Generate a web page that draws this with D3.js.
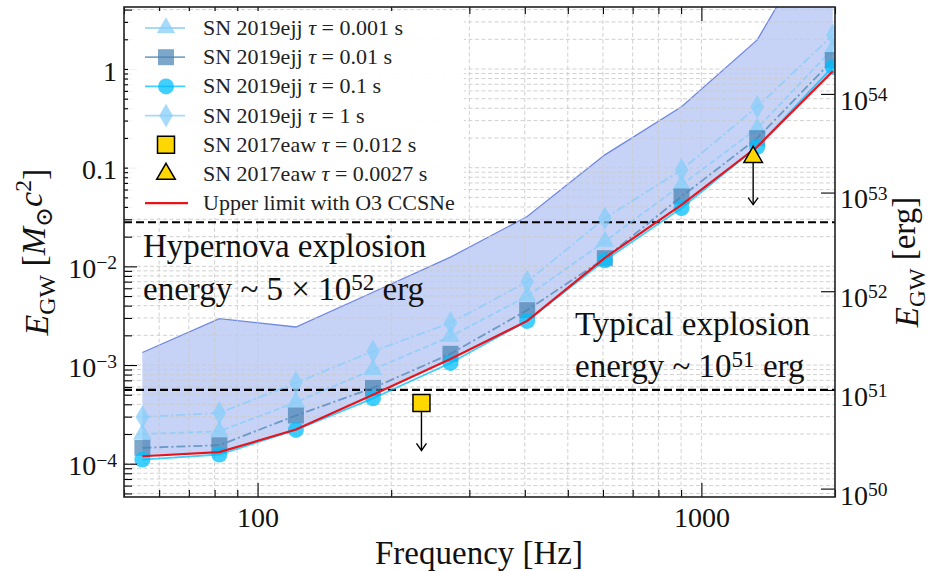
<!DOCTYPE html>
<html>
<head>
<meta charset="utf-8">
<script src="https://cdn.jsdelivr.net/npm/d3@7"></script>
<style>
  body { margin: 0; background: #fff; }
  svg { display: block; font-family: "Liberation Serif", "DejaVu Serif", serif; }
</style>
</head>
<body>
<svg width="935" height="571"></svg>
<script>
// frequencies of the SN 2019ejj points (Hz)
var freqs = [55, 82, 122, 182, 272, 405, 606, 902, 1336, 1977]

// E_GW in Msun c^2
var tau0001 = [2.0e-4, 2.13e-4, 4.2e-4, 9.0e-4, 1.95e-3, 5.0e-3, 0.0179, 0.067, 0.25, 1.6]
var tau001 = [1.45e-4, 1.54e-4, 3.08e-4, 5.86e-4, 1.30e-3, 3.6e-3, 0.0121, 0.051, 0.199, 1.23]
var tau01 = [1.10e-4, 1.24e-4, 2.2e-4, 4.6e-4, 1.05e-3, 2.8e-3, 0.0115, 0.039, 0.163, 1.05]
var tau1 = [2.98e-4, 3.27e-4, 6.6e-4, 1.38e-3, 2.67e-3, 7.0e-3, 0.0308, 0.095, 0.415, 2.2]
var upperLimit = [1.19e-4, 1.31e-4, 2.22e-4, 5.0e-4, 1.15e-3, 2.8e-3, 0.0122, 0.042, 0.163, 0.95]
var bandTop = [1.34e-3, 2.95e-3, 2.43e-3, 5.47e-3, 0.0124, 0.032, 0.135, 0.415, 1.97, 40]

// SN 2017eaw points: [freq, E_GW]
var eaw012 = [234, 4.13e-4]
var eaw0027 = [1308, 0.128]

var xMajor = [100, 1000]
var yMajor = [1e-4, 1e-3, 1e-2, 0.1, 1]
var yLabels = ['10^-4', '10^-3', '10^-2', '0.1', '1']
var ergMajor = [1e50, 1e51, 1e52, 1e53, 1e54]
var ergLabels = ['10^50', '10^51', '10^52', '10^53', '10^54']

var ERG = 1.787e54 // erg per Msun c^2
var hypernova = 5e52 / ERG
var typical = 1e51 / ERG

var svg = d3.select('svg')
var L = 124, R = 835, T = 7, B = 497

var x = d3.scaleLog().domain([50, 2000]).range([L, R])
var y = d3.scaleLog().domain([4.6e-5, 4.25]).range([B, T])
var yErg = d3.scaleLog().domain([4.6e-5 * ERG, 4.25 * ERG]).range([B, T])

svg.append('clipPath').attr('id', 'clip')
  .append('rect').attr('x', L).attr('y', T).attr('width', R - L).attr('height', B - T)

var plot = svg.append('g').attr('clip-path', 'url(#clip)')

// shaded band
var area = d3.area()
  .x(function (d, i) { return x(freqs[i]) })
  .y0(function (d, i) { return y(upperLimit[i]) })
  .y1(function (d) { return y(d) })
plot.append('path').datum(bandTop)
  .attr('d', area)
  .attr('fill', '#4169e1').attr('fill-opacity', 0.3)
plot.append('path').datum(bandTop)
  .attr('d', d3.line().x(function (d, i) { return x(freqs[i]) }).y(function (d) { return y(d) }))
  .attr('fill', 'none').attr('stroke', '#7088e0').attr('stroke-width', 1.3)

// grid
plot.selectAll('.gx').data(x.ticks()).enter().append('line')
  .attr('x1', function (d) { return x(d) }).attr('x2', function (d) { return x(d) })
  .attr('y1', T).attr('y2', B)
  .attr('stroke', '#cccccc').attr('stroke-width', 0.9).attr('stroke-dasharray', '4,2.5')
plot.selectAll('.gy').data(y.ticks()).enter().append('line')
  .attr('y1', function (d) { return y(d) }).attr('y2', function (d) { return y(d) })
  .attr('x1', L).attr('x2', R)
  .attr('stroke', '#cccccc').attr('stroke-width', 0.9).attr('stroke-dasharray', '4,2.5')

// reference explosion energies
;[hypernova, typical].forEach(function (v) {
  plot.append('line')
    .attr('x1', L).attr('x2', R).attr('y1', y(v)).attr('y2', y(v))
    .attr('stroke', '#000').attr('stroke-width', 2.2).attr('stroke-dasharray', '8,4')
})

var series = [
  { name: '0.001', vals: tau0001, sym: d3.symbolTriangle, size: 150, color: '#87cefa', op: 0.75, dash: '6,3' },
  { name: '0.01', vals: tau001, sym: d3.symbolSquare, size: 256, color: '#4682b4', op: 0.7, dash: '9,3,2,3' },
  { name: '0.1', vals: tau01, sym: d3.symbolCircle, size: 200, color: '#00bfff', op: 0.75, dash: null },
  { name: '1', vals: tau1, sym: d3.symbolDiamond, size: 160, color: '#87cefa', op: 0.75, dash: '9,3,2,3' }
]

var line = d3.line()
  .x(function (d, i) { return x(freqs[i]) })
  .y(function (d) { return y(d) })

series.forEach(function (s) {
  plot.append('path').datum(s.vals)
    .attr('d', line)
    .attr('fill', 'none')
    .attr('stroke', s.color).attr('stroke-opacity', s.op)
    .attr('stroke-width', 1.8)
    .attr('stroke-dasharray', s.dash)
  plot.selectAll(null).data(s.vals).enter().append('path')
    .attr('d', d3.symbol().type(s.sym).size(s.size))
    .attr('transform', function (d, i) { return 'translate(' + x(freqs[i]) + ',' + y(d) + ')' })
    .attr('fill', s.color).attr('fill-opacity', s.op)
})

// upper limit
plot.append('path').datum(upperLimit)
  .attr('d', line)
  .attr('fill', 'none').attr('stroke', '#e8141c').attr('stroke-width', 2.2)

// SN 2017eaw points with down arrows
function arrowDown (p) {
  var px = x(p[0]), y0 = y(p[1]), y1 = y(p[1] * 0.33)
  plot.append('line').attr('x1', px).attr('x2', px).attr('y1', y0).attr('y2', y1)
    .attr('stroke', '#000').attr('stroke-width', 1.4)
  plot.append('path')
    .attr('d', 'M' + (px - 5) + ',' + (y1 - 7) + 'L' + px + ',' + y1 + 'L' + (px + 5) + ',' + (y1 - 7))
    .attr('fill', 'none').attr('stroke', '#000').attr('stroke-width', 1.4)
}
arrowDown(eaw012)
arrowDown(eaw0027)
plot.append('path')
  .attr('d', d3.symbol().type(d3.symbolSquare).size(289))
  .attr('transform', 'translate(' + x(eaw012[0]) + ',' + y(eaw012[1]) + ')')
  .attr('fill', '#ffd700').attr('stroke', '#000').attr('stroke-width', 1.5)
plot.append('path')
  .attr('d', d3.symbol().type(d3.symbolTriangle).size(150))
  .attr('transform', 'translate(' + x(eaw0027[0]) + ',' + y(eaw0027[1]) + ')')
  .attr('fill', '#ffd700').attr('stroke', '#000').attr('stroke-width', 1.5)

// annotations
function richText (sel, parts) {
  parts.forEach(function (p) {
    var t = sel.append('tspan').text(p[0])
    if (p[1] === 'sup') t.attr('dy', '-0.45em').attr('font-size', '70%')
    if (p[1] === 'sub') t.attr('dy', '0.3em').attr('font-size', '70%')
    if (p[1] === 'it') t.attr('font-style', 'italic')
    if (p[2]) t.attr('dy', p[2])
  })
}
var ann = svg.append('g').attr('font-size', 33).attr('fill', '#111')
ann.append('text').attr('x', 143).attr('y', 257).text('Hypernova explosion')
richText(ann.append('text').attr('x', 143).attr('y', 300),
  [['energy ~ 5 × 10'], ['52', 'sup'], [' erg', null, '0.315em']])
ann.append('text').attr('x', 575).attr('y', 335).text('Typical explosion')
richText(ann.append('text').attr('x', 575).attr('y', 377),
  [['energy ~ 10'], ['51', 'sup'], [' erg', null, '0.315em']])

// axes
function powLabel (sel, s) {
  sel.text(null)
  var parts = s.split('^')
  sel.append('tspan').text(parts[0])
  if (parts[1]) {
    sel.append('tspan').attr('dy', '-0.45em').attr('font-size', '70%')
      .text(parts[1].replace('-', '\u2212'))
  }
}
function styleAxis (g) {
  g.select('.domain').remove()
  g.selectAll('line').attr('stroke', '#000').attr('stroke-width', 1.1)
  g.selectAll('text').attr('font-family', null).attr('fill', '#111')
  g.attr('font-family', null).attr('font-size', 28)
}

var minorX = x.ticks().filter(function (d) { return xMajor.indexOf(d) < 0 })
var minorY = y.ticks().filter(function (d) { return yMajor.indexOf(d) < 0 })

svg.append('g').attr('transform', 'translate(0,' + B + ')')
  .call(d3.axisBottom(x).tickValues(xMajor).tickSize(-14).tickPadding(10).tickFormat(d3.format('d')))
  .call(styleAxis)
svg.append('g').attr('transform', 'translate(0,' + B + ')')
  .call(d3.axisBottom(x).tickValues(minorX).tickSize(-7).tickFormat(''))
  .call(styleAxis)
svg.append('g').attr('transform', 'translate(0,' + T + ')')
  .call(d3.axisTop(x).tickValues(xMajor).tickSize(-14).tickFormat(''))
  .call(styleAxis)
svg.append('g').attr('transform', 'translate(0,' + T + ')')
  .call(d3.axisTop(x).tickValues(minorX).tickSize(-7).tickFormat(''))
  .call(styleAxis)

svg.append('g').attr('transform', 'translate(' + L + ',0)')
  .call(d3.axisLeft(y).tickValues(yMajor).tickSize(-13).tickPadding(7)
    .tickFormat(function (d, i) { return yLabels[i] }))
  .call(styleAxis)
  .selectAll('text').attr('dy', '0.4em').each(function (d, i) { powLabel(d3.select(this), yLabels[i]) })
svg.append('g').attr('transform', 'translate(' + L + ',0)')
  .call(d3.axisLeft(y).tickValues(minorY).tickSize(-8).tickFormat(''))
  .call(styleAxis)

svg.append('g').attr('transform', 'translate(' + R + ',0)')
  .call(d3.axisRight(yErg).tickValues(ergMajor).tickSize(-14).tickPadding(5)
    .tickFormat(function (d, i) { return ergLabels[i] }))
  .call(styleAxis)
  .selectAll('text').attr('dy', '0.55em').each(function (d, i) { powLabel(d3.select(this), ergLabels[i]) })

svg.append('rect').attr('x', L).attr('y', T).attr('width', R - L).attr('height', B - T)
  .attr('fill', 'none').attr('stroke', '#222').attr('stroke-width', 1.6)

// axis titles
svg.append('text').attr('x', 479).attr('y', 564).attr('text-anchor', 'middle')
  .attr('font-size', 33).attr('fill', '#111').text('Frequency [Hz]')
var yl = svg.append('text').attr('transform', 'translate(48,252) rotate(-90)')
  .attr('text-anchor', 'middle').attr('font-size', 34).attr('fill', '#111')
richText(yl, [['E', 'it'], ['GW', 'sub'], [' [', null, '-0.3em'], ['M', 'it'], ['\u2299', 'sub'], ['c', 'it', '-0.3em'], ['2', 'sup'], [']', null, '0.45em']])
var yr = svg.append('text').attr('transform', 'translate(918,262) rotate(-90)')
  .attr('text-anchor', 'middle').attr('font-size', 33).attr('fill', '#111')
richText(yr, [['E', 'it'], ['GW', 'sub'], [' [erg]', null, '-0.3em']])

// legend
var leg = svg.append('g')
leg.append('rect').attr('x', 128).attr('y', 11).attr('width', 336).attr('height', 207)
  .attr('fill', '#fff').attr('fill-opacity', 0.95)
var legItems = series.map(function (s) {
  return { s: s, label: [['SN 2019ejj '], ['τ', 'it'], [' = ' + s.name + ' s']] }
})
legItems.push({ eaw: d3.symbolSquare, size: 289, label: [['SN 2017eaw '], ['τ', 'it'], [' = 0.012 s']] })
legItems.push({ eaw: d3.symbolTriangle, size: 150, label: [['SN 2017eaw '], ['τ', 'it'], [' = 0.0027 s']] })
legItems.push({ red: true, label: [['Upper limit with O3 CCSNe']] })

legItems.forEach(function (it, i) {
  var cy = 28 + i * 29.2
  var g = leg.append('g')
  if (it.s) {
    g.append('line').attr('x1', 145).attr('x2', 185).attr('y1', cy).attr('y2', cy)
      .attr('stroke', it.s.color).attr('stroke-opacity', it.s.op).attr('stroke-width', 1.8)
    g.append('path').attr('d', d3.symbol().type(it.s.sym).size(it.s.size))
      .attr('transform', 'translate(166,' + cy + ')')
      .attr('fill', it.s.color).attr('fill-opacity', it.s.op)
  } else if (it.eaw) {
    g.append('path').attr('d', d3.symbol().type(it.eaw).size(it.size))
      .attr('transform', 'translate(166,' + cy + ')')
      .attr('fill', '#ffd700').attr('stroke', '#000').attr('stroke-width', 1.5)
  } else {
    g.append('line').attr('x1', 145).attr('x2', 188).attr('y1', cy).attr('y2', cy)
      .attr('stroke', '#e8141c').attr('stroke-width', 2.2)
  }
  richText(g.append('text').attr('x', 203).attr('y', cy + 7).attr('font-size', 22).attr('fill', '#222'), it.label)
})
</script>
</body>
</html>
